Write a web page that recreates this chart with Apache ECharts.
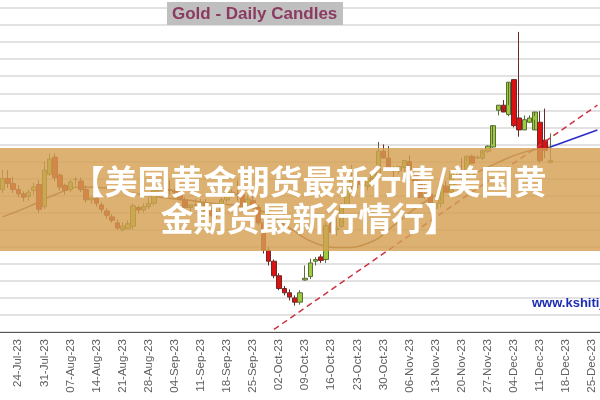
<!DOCTYPE html>
<html><head><meta charset="utf-8">
<script src="https://cdn.jsdelivr.net/npm/echarts@6/dist/echarts.min.js"></script>
<style>html,body{margin:0;padding:0;background:#fff}#c{width:600px;height:400px}</style>
</head><body><div id="c"></div>
<script>
// Trading days (categories)
const dates = [
 '19-Jul-23','20-Jul-23','21-Jul-23','24-Jul-23','25-Jul-23','26-Jul-23','27-Jul-23','28-Jul-23','31-Jul-23',
 '01-Aug-23','02-Aug-23','03-Aug-23','04-Aug-23','07-Aug-23','08-Aug-23','09-Aug-23','10-Aug-23','11-Aug-23','14-Aug-23','15-Aug-23','16-Aug-23','17-Aug-23','18-Aug-23','21-Aug-23','22-Aug-23','23-Aug-23','24-Aug-23','25-Aug-23','28-Aug-23','29-Aug-23','30-Aug-23','31-Aug-23',
 '01-Sep-23','04-Sep-23','05-Sep-23','06-Sep-23','07-Sep-23','08-Sep-23','11-Sep-23','12-Sep-23','13-Sep-23','14-Sep-23','15-Sep-23','18-Sep-23','19-Sep-23','20-Sep-23','21-Sep-23','22-Sep-23','25-Sep-23','26-Sep-23','27-Sep-23','28-Sep-23','29-Sep-23',
 '02-Oct-23','03-Oct-23','04-Oct-23','05-Oct-23','06-Oct-23','09-Oct-23','10-Oct-23','11-Oct-23','12-Oct-23','13-Oct-23','16-Oct-23','17-Oct-23','18-Oct-23','19-Oct-23','20-Oct-23','23-Oct-23','24-Oct-23','25-Oct-23','26-Oct-23','27-Oct-23','30-Oct-23','31-Oct-23',
 '01-Nov-23','02-Nov-23','03-Nov-23','06-Nov-23','07-Nov-23','08-Nov-23','09-Nov-23','10-Nov-23','13-Nov-23','14-Nov-23','15-Nov-23','16-Nov-23','17-Nov-23','20-Nov-23','21-Nov-23','22-Nov-23','23-Nov-23','24-Nov-23','27-Nov-23','28-Nov-23','29-Nov-23','30-Nov-23',
 '01-Dec-23','04-Dec-23','05-Dec-23','06-Dec-23','07-Dec-23','08-Dec-23','11-Dec-23','12-Dec-23','13-Dec-23','14-Dec-23','15-Dec-23','18-Dec-23','19-Dec-23','20-Dec-23','21-Dec-23','22-Dec-23','25-Dec-23','26-Dec-23'
];
// Monday tick labels
const tickLabels = ['24-Jul-23','31-Jul-23','07-Aug-23','14-Aug-23','21-Aug-23','28-Aug-23','04-Sep-23','11-Sep-23','18-Sep-23','25-Sep-23','02-Oct-23','09-Oct-23','16-Oct-23','23-Oct-23','30-Oct-23','06-Nov-23','13-Nov-23','20-Nov-23','27-Nov-23','04-Dec-23','11-Dec-23','18-Dec-23','25-Dec-23'];

// Daily candles: open, close, low, high (USD)
const opens  = [1967,1980,1974,1967,1962,1959,1966,1973,1947,1985,2005,1984,1972,1967,1979,1977,1967,1955,1957,1949,1942,1935,1928,1920,1921,1924,1946,1943,1947,1951,1966,1970,1967,1966,1964,1955,1946,1949,1949,1951,1942,1937,1941,1955,1964,1962,1961,1948,1954,1946,1928,1896,1883,1866,1851,1846,1840,1835,1861,1865,1883,1888,1885,1928,1920,1924,1948,1971,1980,1973,1971,1980,1984,2012,2004,1991,1989,1993,2000,1986,1977,1958,1962,1945,1951,1971,1964,1989,1988,1984,2006,2004,2004,2012,2017,2060,2066,2055,2096,2051,2037,2046,2037,2046,2025,1999];
const closes = [1980,1974,1967,1962,1958,1964,1970,1944,1990,2003,1981,1970,1966,1976,1979,1967,1955,1957,1951,1944,1937,1931,1922,1924,1927,1948,1943,1947,1951,1966,1970,1967,1966,1964,1955,1946,1949,1949,1951,1942,1937,1941,1955,1964,1962,1961,1948,1956,1946,1928,1896,1883,1866,1851,1846,1841,1835,1846,1863,1881,1885,1884,1925,1917,1922,1947,1971,1980,1973,1971,1980,1986,2012,2004,1991,1989,1994,2001,1987,1977,1958,1962,1945,1951,1972,1964,1988,1987,1984,2006,1998,2005,2013,2018,2042,2066,2058,2093,2042,2037,2049,2051,2058,2001,2013,2001,2051];
const lows   = [1963,1969,1963,1958,1953,1954,1961,1940,1944,1983,1977,1966,1961,1964,1972,1964,1952,1950,1947,1940,1933,1928,1920,1918,1922,1920,1939,1940,1944,1948,1964,1964,1961,1962,1960,1951,1937,1943,1945,1943,1935,1934,1932,1952,1958,1954,1946,1946,1944,1925,1892,1878,1863,1849,1843,1837,1831,1832,1860,1862,1878,1881,1881,1919,1913,1922,1945,1966,1969,1963,1966,1977,1983,2010,2002,1979,1985,1988,1998,1977,1968,1956,1955,1943,1946,1970,1958,1984,1978,1983,2001,2003,2002,2010,2016,2054,2062,2053,2040,2029,2037,2045,2049,1998,2004,1998,2043];
const highs  = [1990,1990,1982,1972,1965,1967,1975,1978,2000,2009,2009,1986,1974,1979,1982,1981,1972,1959,1959,1952,1945,1938,1932,1929,1931,1951,1948,1951,1958,1968,1976,1970,1978,1968,1966,1958,1948,1956,1956,1956,1946,1944,1958,1968,1967,1978,1964,1960,1963,1949,1931,1900,1885,1869,1854,1850,1843,1849,1878,1886,1888,1891,1929,1934,1934,1951,1982,1996,1987,1976,1982,1990,2023,2020,2018,1995,1993,2001,2007,1988,1979,1974,1970,1950,1954,1977,1984,1994,2004,2001,2008,2007,2008,2019,2020,2065,2072,2066,2096,2152,2054,2054,2053,2059,2062,2033,2044,2057];

// Moving average (read at sampled days; null elsewhere)
const maLine = [1935,null,null,null,null,1947,null,null,null,null,1961,null,null,null,null,1970,null,null,null,null,1969,null,null,null,null,1963,null,null,null,null,1958,null,null,null,null,1955,null,null,null,null,1951,null,null,null,null,1948,null,null,null,null,1941,null,null,null,null,1922,null,null,null,null,1904,null,null,null,null,1899,null,null,null,null,1904,null,null,null,null,1925,null,null,null,null,1949,null,null,null,null,1967,null,null,null,null,1984,null,null,null,null,1999,null,null,null,null,2011,null,null,null,null,2017];

// Trend lines: [category, price] end points
const redTrend  = [['29-Sep-23',1803],['26-Dec-23',2066]];
const blueTrend = [['13-Dec-23',2017],['26-Dec-23',2037]];

const candleData = opens.map((o,i)=>[o,closes[i],lows[i],highs[i]]);
const tickSet = new Set(tickLabels);
const showTick = (idx, val) => tickSet.has(val);

const chart = echarts.init(document.getElementById('c'), null, {renderer:'canvas'});
chart.setOption({
  animation:false,
  backgroundColor:'#ffffff',
  grid:{left:0,right:-3,top:8,bottom:68},
  xAxis:[{
    type:'category', data:dates, boundaryGap:true,
    axisLine:{lineStyle:{color:'#555',width:1}},
    axisTick:{interval:showTick, alignWithLabel:true, length:4, lineStyle:{color:'#555'}},
    axisLabel:{interval:showTick, rotate:90, margin:7, color:'#606060', fontSize:11.5, fontFamily:'Liberation Sans, Arial'},
    splitLine:{show:false}
  },{
    type:'category', data:dates, boundaryGap:true, position:'bottom',
    axisLine:{show:false},
    axisTick:{interval:showTick, alignWithLabel:true, inside:true, length:4, lineStyle:{color:'#555'}},
    axisLabel:{show:false}, splitLine:{show:false}
  }],
  yAxis:{type:'value', min:1800, max:2180, interval:20, show:true,
    axisLine:{show:false}, axisTick:{show:false}, axisLabel:{show:false},
    splitLine:{lineStyle:{color:'#e2e2e2', width:2}}},
  series:[
    {type:'line', data:maLine, connectNulls:true, smooth:true, showSymbol:false,
     lineStyle:{color:'#8a5a3c', width:1.5}, z:3},
    {type:'candlestick', data:candleData, barWidth:5,
     itemStyle:{color:'#9ccc3c', color0:'#dd1111', borderColor:'#5b6b3a', borderColor0:'#6b2a2a', borderWidth:1}, z:4},
    {type:'line', data:redTrend, showSymbol:false, lineStyle:{color:'#cc3344', width:1.5, type:[6,4]}, z:5},
    {type:'line', data:blueTrend, showSymbol:false, lineStyle:{color:'#2a2acc', width:1.5}, z:5}
  ],
  graphic:[
    {type:'rect', z:50, shape:{x:167,y:2,width:176,height:23}, style:{fill:'#bfbfbf'}},
    {type:'text', z:51, x:172, y:14, style:{text:'Gold - Daily Candles', fill:'#8b3a62', font:'bold 17px "Liberation Sans", Arial', textVerticalAlign:'middle'}},
    {type:'text', z:51, x:532, y:303, style:{text:'www.kshitij.com', fill:'#1c2cb0', font:'bold 13px "Liberation Sans", Arial', textVerticalAlign:'middle'}},
    {type:'rect', z:100, shape:{x:0,y:148,width:600,height:103}, style:{fill:'rgba(212,160,82,0.82)'}},
    {type:'text', z:101, x:309, y:181, style:{text:'【美国黄金期货最新行情/美国黄', fill:'#ffffff', font:'bold 33px "Noto Sans CJK SC"', textAlign:'center', textVerticalAlign:'middle'}},
    {type:'text', z:101, x:309, y:218, style:{text:'金期货最新行情行】', fill:'#ffffff', font:'bold 33px "Noto Sans CJK SC"', textAlign:'center', textVerticalAlign:'middle'}}
  ]
});
</script></body></html>
